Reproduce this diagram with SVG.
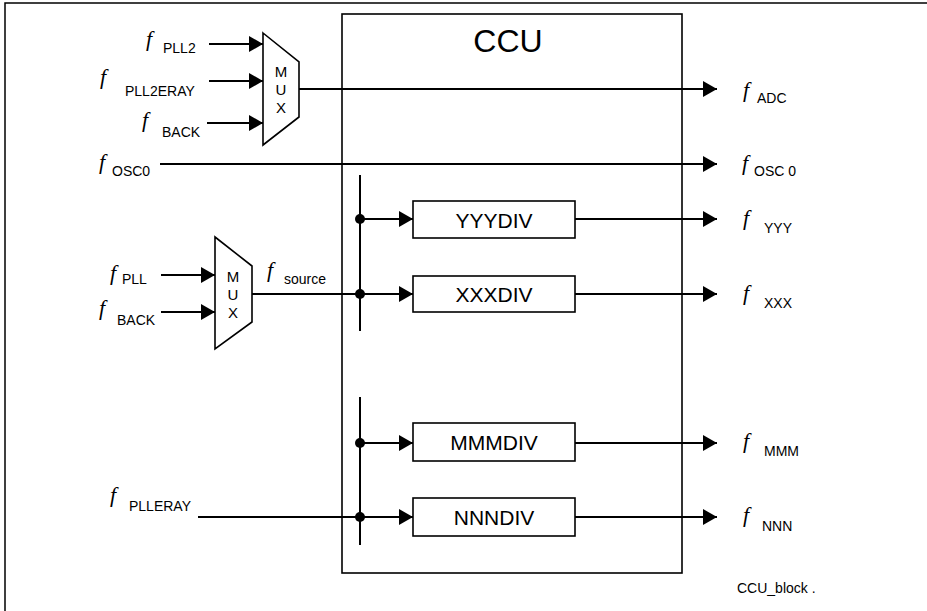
<svg xmlns="http://www.w3.org/2000/svg" width="927" height="611" viewBox="0 0 927 611">
<defs>
<style>
.ln{stroke:#000;stroke-width:2;fill:none}
.bx{stroke:#000;stroke-width:1.6;fill:#fff}
.f{font-family:"Liberation Serif",serif;font-style:italic;font-size:22px;fill:#000}
.s{font-family:"Liberation Sans",Arial,sans-serif;font-size:14px;fill:#000}
.mux{font-family:"Liberation Sans",Arial,sans-serif;font-size:15px;fill:#000;text-anchor:middle}
.div{font-family:"Liberation Sans",Arial,sans-serif;font-size:21px;fill:#000;text-anchor:middle}
.dot{fill:#000}
</style>
<marker id="ah" markerUnits="userSpaceOnUse" markerWidth="14" markerHeight="16" refX="14" refY="8" orient="auto">
<path d="M0,0 L14,8 L0,16 Z" fill="#000"/>
</marker>
</defs>
<rect width="927" height="611" fill="#fff"/>
<path d="M5,611 V3 H927" stroke="#000" stroke-width="1.5" fill="none"/>

<g id="ccu">
<rect x="342" y="14" width="340" height="559" style="fill:none;stroke:#000;stroke-width:1.6"/>
<text x="508" y="52" font-family="Liberation Sans,Arial,sans-serif" font-size="32" text-anchor="middle">CCU</text>
</g>

<g id="mux1">
<polygon points="263,33 299,62 299,117 263,145" class="bx"/>
<text x="281" y="77" class="mux">M</text>
<text x="281" y="95" class="mux">U</text>
<text x="281" y="113" class="mux">X</text>
</g>

<g id="mux2">
<polygon points="215,237 252,266 252,322 215,349" class="bx"/>
<text x="233" y="282" class="mux">M</text>
<text x="233" y="300" class="mux">U</text>
<text x="233" y="318" class="mux">X</text>
</g>

<g id="yyydiv">
<rect x="413" y="201" width="162" height="37" class="bx"/>
<text x="494" y="228" class="div">YYYDIV</text>
</g>
<g id="xxxdiv">
<rect x="413" y="276" width="162" height="36" class="bx"/>
<text x="494" y="302" class="div">XXXDIV</text>
</g>
<g id="mmmdiv">
<rect x="413" y="423" width="162" height="38" class="bx"/>
<text x="494" y="450" class="div">MMMDIV</text>
</g>
<g id="nnndiv">
<rect x="413" y="498" width="162" height="38" class="bx"/>
<text x="494" y="525" class="div">NNNDIV</text>
</g>

<g id="connectors">
<line x1="209" y1="44" x2="263" y2="44" class="ln" marker-end="url(#ah)"/>
<line x1="209" y1="81" x2="263" y2="81" class="ln" marker-end="url(#ah)"/>
<line x1="207" y1="123" x2="263" y2="123" class="ln" marker-end="url(#ah)"/>
<line x1="299" y1="89" x2="717" y2="89" class="ln" marker-end="url(#ah)"/>
<line x1="160" y1="164" x2="717" y2="164" class="ln" marker-end="url(#ah)"/>
<line x1="161" y1="275" x2="215" y2="275" class="ln" marker-end="url(#ah)"/>
<line x1="161" y1="312" x2="215" y2="312" class="ln" marker-end="url(#ah)"/>
<line x1="252" y1="294" x2="360" y2="294" class="ln"/>
<line x1="360" y1="175" x2="360" y2="331" class="ln"/>
<line x1="360" y1="397" x2="360" y2="545" class="ln"/>
<line x1="198" y1="517" x2="360" y2="517" class="ln"/>
<line x1="360" y1="219" x2="413" y2="219" class="ln" marker-end="url(#ah)"/>
<line x1="360" y1="294" x2="413" y2="294" class="ln" marker-end="url(#ah)"/>
<line x1="360" y1="443" x2="413" y2="443" class="ln" marker-end="url(#ah)"/>
<line x1="360" y1="517" x2="413" y2="517" class="ln" marker-end="url(#ah)"/>
<line x1="575" y1="219" x2="717" y2="219" class="ln" marker-end="url(#ah)"/>
<line x1="575" y1="294" x2="717" y2="294" class="ln" marker-end="url(#ah)"/>
<line x1="575" y1="443" x2="717" y2="443" class="ln" marker-end="url(#ah)"/>
<line x1="575" y1="517" x2="717" y2="517" class="ln" marker-end="url(#ah)"/>
<circle cx="360" cy="219" r="5" class="dot"/>
<circle cx="360" cy="294" r="5" class="dot"/>
<circle cx="360" cy="443" r="5" class="dot"/>
<circle cx="360" cy="517" r="5" class="dot"/>
</g>

<g id="labels">
<text x="146" y="46" class="f">f</text><text x="163" y="53" class="s">PLL2</text>
<text x="100" y="84" class="f">f</text><text x="125" y="96" class="s">PLL2ERAY</text>
<text x="142" y="127" class="f">f</text><text x="162" y="137" class="s">BACK</text>
<text x="99" y="169" class="f">f</text><text x="112" y="176" class="s">OSC0</text>
<text x="110" y="280" class="f">f</text><text x="122" y="284" class="s">PLL</text>
<text x="99" y="315" class="f">f</text><text x="117" y="325" class="s">BACK</text>
<text x="267" y="277" class="f">f</text><text x="284" y="284" class="s">source</text>
<text x="110" y="502" class="f">f</text><text x="129" y="511" class="s">PLLERAY</text>
<text x="743" y="97" class="f">f</text><text x="757" y="103" class="s">ADC</text>
<text x="742" y="170" class="f">f</text><text x="754" y="176" class="s">OSC 0</text>
<text x="743" y="225" class="f">f</text><text x="764" y="233" class="s">YYY</text>
<text x="743" y="300" class="f">f</text><text x="764" y="308" class="s">XXX</text>
<text x="743" y="448" class="f">f</text><text x="764" y="456" class="s">MMM</text>
<text x="743" y="522" class="f">f</text><text x="762" y="531" class="s">NNN</text>
<text x="737" y="593" font-family="Liberation Sans,Arial,sans-serif" font-size="14">CCU_block .</text>
</g>
</svg>
